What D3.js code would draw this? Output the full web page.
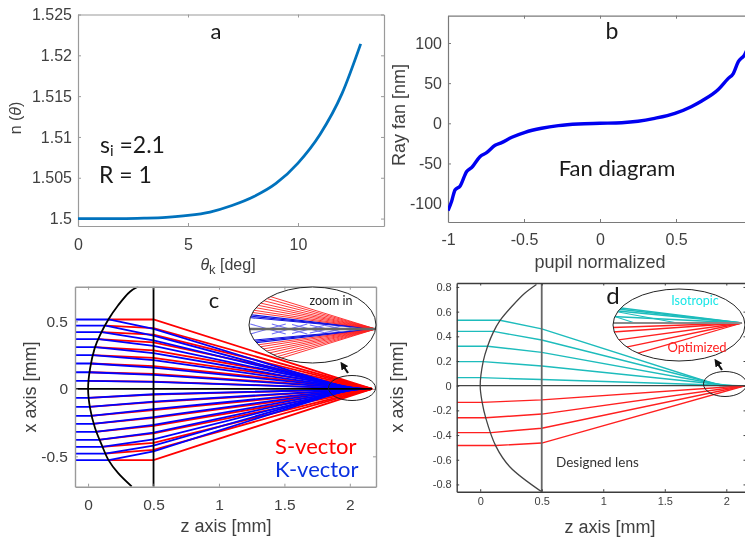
<!DOCTYPE html>
<html lang="en">
<head>
  <meta charset="UTF-8">
  <title>Lens design panels</title>
  <script src="https://d3js.org/d3.v7.min.js"></script>
  <style>
    html, body { margin: 0; padding: 0; background: #fff; overflow: hidden; }
    svg { display: block; filter: blur(0.35px); }
    text { font-family: "Liberation Sans", sans-serif; fill: #404040; }
    .note { font-family: Lato, "Open Sans", sans-serif; fill: #1a1a1a; }
    .tick text { fill: #404040; }
  </style>
</head>
<body>
  <svg width="745" height="537"></svg>
  <script>
    // panel a
    const thetaK = [0, 2, 3, 4, 5, 6, 7, 8, 9, 10, 11, 12, 12.85];
    const indexN = [1.5, 1.5, 1.50005, 1.50015, 1.00038 + 0.5, 1.5008, 1.5016, 1.5027, 1.5043, 1.5068, 1.5103, 1.5153, 1.5214];
    const aTicksX = [0, 5, 10];
    const aTicksY = [1.5, 1.505, 1.51, 1.515, 1.52, 1.525];

    // panel b
    const pupil = [-1, -0.976, -0.954, -0.92, -0.877, -0.844, -0.79, -0.746, -0.69, -0.647, -0.58, -0.493, -0.384, -0.274, -0.143, 0, 0.143, 0.25, 0.36, 0.493, 0.6, 0.669, 0.778, 0.844, 0.877, 0.91, 0.95, 1];
    const rayFan = [-108.7, -97, -83, -78, -60, -55, -41.5, -36.5, -27.4, -24, -17.4, -11.2, -6.2, -2.9, -0.8, 0, 0.7, 2.5, 6.2, 12.4, 20.7, 27.8, 42, 56, 62, 76.8, 85, 108];
    const bTicksX = [-1, -0.5, 0, 0.5];
    const bTicksY = [-100, -50, 0, 50, 100];

    // panel c, lens outline
    const lensZc = [0.384, 0.32, 0.23, 0.155, 0.092, 0.05, 0.015, 0, 0.015, 0.053, 0.104, 0.155, 0.23, 0.333];
    const lensXc = [0.758, 0.72, 0.62, 0.514, 0.4, 0.3, 0.15, 0, -0.143, -0.29, -0.415, -0.526, -0.625, -0.723];

    // panel c, rays: height going in, z where it meets the lens, height at z = 0.5, axis crossing
    const startC = [0.514, 0.469, 0.42, 0.368, 0.309, 0.25, 0.188, 0.123, 0.059, -0.067, -0.133, -0.2, -0.259, -0.319, -0.378, -0.43, -0.48, -0.528];
    const hitC = [0.158, 0.135, 0.105, 0.08, 0.055, 0.035, 0.02, 0.008, 0.002, 0.002, 0.008, 0.02, 0.035, 0.055, 0.08, 0.105, 0.13, 0.158];
    const blueHalf = [0.444, 0.395, 0.36, 0.318, 0.265, 0.213, 0.158, 0.104, 0.052, -0.04, -0.094, -0.15, -0.21, -0.267, -0.325, -0.375, -0.42, -0.464];
    const redHalf = [0.514, 0.45, 0.402, 0.345, 0.285, 0.23, 0.168, 0.11, 0.054, -0.043, -0.098, -0.158, -0.215, -0.275, -0.33, -0.4, -0.452, -0.528];
    const blueFocus = [2, 2.01, 2.03, 2.05, 2.07, 2.08, 2.1, 2.11, 2.12, 2.12, 2.11, 2.1, 2.08, 2.07, 2.05, 2.03, 2.01, 2];
    const redFocus = 2.17;
    const cTicksX = [0, 0.5, 1, 1.5, 2];
    const cTicksY = [-0.5, 0, 0.5];

    // panel c, zoom in: offsets at the left edge of the ellipse
    const insetRedC = [39, 35.5, 32, 28.5, 25.5, 22.5, 19.5, 17, -39, -35.5, -32, -28.5, -25.5, -22.5, -19.5, -17];
    const insetBlueC = [14.5, 13, 11.5, -14.5, -13, -11.5];
    const insetNodesC = [0.15, 0.32, 0.48, 0.62, 0.74];
    const insetNodeOffsetC = [5, 5, 4.5, 4, 3.5];

    // panel d, lens outline
    const lensZd = [0.457, 0.362, 0.268, 0.16, 0.105, 0.06, 0.024, 0, 0.016, 0.046, 0.127, 0.24, 0.5];
    const lensXd = [0.82, 0.749, 0.654, 0.527, 0.43, 0.32, 0.195, 0, -0.135, -0.265, -0.49, -0.657, -0.86];

    // panel d, rays
    const cyanStart = [0.53, 0.44, 0.32, 0.195, 0.065];
    const cyanHit = [0.16, 0.108, 0.06, 0.024, 0.003];
    const cyanHalf = [0.46, 0.37, 0.27, 0.16, 0.05];
    const cyanFocus = [1.95, 1.98, 2, 2.05, 2.1];
    const redStartD = [-0.135, -0.26, -0.38, -0.485];
    const redHitD = [0.016, 0.046, 0.09, 0.127];
    const redHalfD = [-0.115, -0.23, -0.345, -0.465];
    const redFocusD = 2.155;
    const dTicksX = [0, 0.5, 1, 1.5, 2];
    const dTicksY = [-0.8, -0.6, -0.4, -0.2, 0, 0.2, 0.4, 0.6, 0.8];

    // panel d, zoom in
    const insetCyanD = [16, 14.5, 12.5, 6.5];
    const insetRedD = [-37.5, -26.8, -17.6, -9, -4.5];
    const insetNodesD = [0.17, 0.5];
    const insetNodeOffsetD = [7, 12];

    const svg = d3.select("svg");
    const defs = svg.append("defs");

    defs.append("marker").attr("id", "head")
      .attr("viewBox", "0 0 10 10").attr("refX", 2).attr("refY", 5)
      .attr("markerWidth", 3.6).attr("markerHeight", 3.6).attr("orient", "auto")
      .append("path").attr("d", "M0,0L10,5L0,10Z").attr("fill", "#111");

    function clipRect(id, x, y, width, height) {
      defs.append("clipPath").attr("id", id).append("rect")
        .attr("x", x).attr("y", y).attr("width", width).attr("height", height);
    }

    function clipEllipse(id, cx, cy, rx, ry) {
      defs.append("clipPath").attr("id", id).append("ellipse")
        .attr("cx", cx).attr("cy", cy).attr("rx", rx).attr("ry", ry);
    }

    // boxed axes with inward ticks on all four sides
    function axes(x, y, ticksX, ticksY, o) {
      const [x0, x1] = x.range();
      const [y0, y1] = y.range();
      const fmt = d => String(d);
      const groups = [
        [d3.axisBottom(x).tickValues(ticksX).tickFormat(fmt).tickPadding(o.padX), y0],
        [d3.axisTop(x).tickValues(ticksX).tickFormat(""), y1],
      ];
      groups.forEach(([a, pos]) => {
        svg.append("g").attr("transform", `translate(0,${pos})`)
          .call(a.tickSizeInner(-o.tick).tickSizeOuter(0))
          .call(g => style(g, o));
      });
      svg.append("g").attr("transform", `translate(${x0},0)`)
        .call(d3.axisLeft(y).tickValues(ticksY).tickFormat(fmt).tickPadding(o.padY).tickSizeInner(-o.tick).tickSizeOuter(0))
        .call(g => style(g, o));
      svg.append("g").attr("transform", `translate(${x1},0)`)
        .call(d3.axisRight(y).tickValues(ticksY).tickFormat("").tickSizeInner(-o.tick).tickSizeOuter(0))
        .call(g => style(g, o));
    }

    function style(g, o) {
      g.attr("font-family", null).attr("font-size", null);
      g.select(".domain").attr("stroke", o.frame).attr("stroke-width", o.width);
      g.selectAll(".tick line").attr("stroke", o.frame).attr("stroke-width", 1);
      g.selectAll(".tick text").style("font-size", o.size + "px");
    }

    function label(x, y, str, size, rotate) {
      const t = svg.append("text").attr("text-anchor", "middle").style("font-size", size + "px");
      if (rotate) t.attr("transform", `translate(${x},${y}) rotate(-90)`);
      else t.attr("x", x).attr("y", y);
      return t.text(str);
    }

    function note(x, y, str, size, color, anchor) {
      return svg.append("text").attr("class", "note")
        .attr("x", x).attr("y", y)
        .attr("text-anchor", anchor || "start")
        .style("font-size", size + "px")
        .style("fill", color || "#1a1a1a")
        .text(str);
    }

    function ray(parent, x, y, pts, color, width) {
      parent.append("path")
        .attr("d", d3.line().x(d => x(d[0])).y(d => y(d[1]))(pts))
        .attr("fill", "none").attr("stroke", color).attr("stroke-width", width);
    }

    // ---- a
    const xA = d3.scaleLinear().domain([0, 13.91]).range([78, 384]);
    const yA = d3.scaleLinear().domain([1.49909, 1.525]).range([226, 14.5]);
    axes(xA, yA, aTicksX, aTicksY, { frame: "#9a9a9a", width: 1.2, tick: 3, padX: 13, padY: 6, size: 16 });
    svg.append("path")
      .datum(thetaK.map((d, i) => [d, indexN[i]]))
      .attr("d", d3.line().x(d => xA(d[0])).y(d => yA(d[1])).curve(d3.curveMonotoneX))
      .attr("fill", "none").attr("stroke", "#0072bd").attr("stroke-width", 2.8);
    const yLabA = label(21, 118, "", 16, true);
    yLabA.append("tspan").text("n (");
    yLabA.append("tspan").attr("font-style", "italic").text("θ");
    yLabA.append("tspan").text(")");
    const xLabA = label(228, 270, "", 16);
    xLabA.append("tspan").attr("font-style", "italic").text("θ");
    xLabA.append("tspan").attr("dy", 4).style("font-size", "13px").text("k");
    xLabA.append("tspan").attr("dy", -4).text(" [deg]");
    note(216, 39, "a", 22, null, "middle");
    const si = note(100, 153, "s", 23);
    si.append("tspan").attr("dy", 3).style("font-size", "15px").text("i");
    si.append("tspan").attr("dy", -3).text(" =2.1");
    note(99, 183, "R = 1", 23);

    // ---- b
    const xB = d3.scaleLinear().domain([-1, 1]).range([448, 752]);
    const yB = d3.scaleLinear().domain([-122.9, 134]).range([222, 15.7]);
    axes(xB, yB, bTicksX, bTicksY, { frame: "#7a7a7a", width: 1.2, tick: 3, padX: 12, padY: 6, size: 16 });
    clipRect("clip-b", 448, 15, 297, 208);
    svg.append("path")
      .datum(pupil.map((d, i) => [d, rayFan[i]]))
      .attr("clip-path", "url(#clip-b)")
      .attr("d", d3.line().x(d => xB(d[0])).y(d => yB(d[1])).curve(d3.curveMonotoneX))
      .attr("fill", "none").attr("stroke", "#0000f0").attr("stroke-width", 3.4);
    label(600, 268, "pupil normalized", 18);
    label(405, 115, "Ray fan [nm]", 18, true);
    note(612, 39, "b", 23, null, "middle");
    note(617, 176, "Fan diagram", 22, null, "middle");

    // ---- c
    const xC = d3.scaleLinear().domain([-0.1, 2.2]).range([75, 376]);
    const yC = d3.scaleLinear().domain([-0.725, 0.757]).range([486.7, 286.7]);
    clipRect("clip-c", 75, 286.7, 301, 200);
    const plotC = svg.append("g").attr("clip-path", "url(#clip-c)");
    startC.forEach((s, i) => {
      ray(plotC, xC, yC, [[hitC[i], s], [0.5, redHalf[i]], [redFocus, 0]], "#ff0000", 1.8);
    });
    startC.forEach((s, i) => {
      ray(plotC, xC, yC, [[-0.1, s], [hitC[i], s], [0.5, blueHalf[i]], [blueFocus[i], 0]], "#0000ff", 1.8);
    });
    ray(plotC, xC, yC, [[-0.1, 0], [redFocus, 0]], "#000", 1.8);
    ray(plotC, xC, yC, [[0.5, -0.725], [0.5, 0.757]], "#000", 1.8);
    plotC.append("path")
      .attr("d", d3.line().x(d => xC(d[0])).y(d => yC(d[1])).curve(d3.curveCatmullRom)(lensZc.map((d, i) => [d, lensXc[i]])))
      .attr("fill", "none").attr("stroke", "#000").attr("stroke-width", 1.8);
    axes(xC, yC, cTicksX, cTicksY, { frame: "#9a9a9a", width: 1.4, tick: 3, padX: 12, padY: 7, size: 15.5 });
    label(226, 532, "z axis [mm]", 18);
    label(36, 387, "x axis [mm]", 18, true);
    note(214, 308, "c", 22, null, "middle");
    note(275, 454, "S-vector", 22, "#ff0000");
    note(275, 477, "K-vector", 22, "#0a30e0");

    // zoom in, c
    svg.append("ellipse").attr("cx", 352).attr("cy", 388).attr("rx", 23.5).attr("ry", 12.5)
      .attr("fill", "none").attr("stroke", "#222").attr("stroke-width", 1);
    svg.append("line").attr("x1", 348).attr("y1", 373).attr("x2", 344).attr("y2", 367)
      .attr("stroke", "#111").attr("stroke-width", 2.2).attr("marker-end", "url(#head)");
    clipEllipse("clip-ic", 312.5, 325, 63.5, 38);
    const uC = d3.scaleLinear().domain([0, 1]).range([249, 375.7]);
    const vC = d3.scaleLinear().domain([-40, 40]).range([369, 289]);
    svg.append("ellipse").attr("cx", 312.5).attr("cy", 325).attr("rx", 63.5).attr("ry", 38)
      .attr("fill", "#fff").attr("stroke", "none");
    const insetC = svg.append("g").attr("clip-path", "url(#clip-ic)");
    insetNodesC.forEach((n, i) => {
      const o = insetNodeOffsetC[i];
      ray(insetC, uC, vC, [[n - 0.14, o], [n, 0], [n + 0.14, -o]], "#7070f5", 1.1);
      ray(insetC, uC, vC, [[n - 0.14, -o], [n, 0], [n + 0.14, o]], "#7070f5", 1.1);
    });
    insetBlueC.forEach(o => ray(insetC, uC, vC, [[0, o], [1, 0]], "#1010e0", 1.2));
    insetRedC.forEach(o => ray(insetC, uC, vC, [[0, o], [1, 0]], "#ff2020", 0.9));
    ray(insetC, uC, vC, [[0, 0], [1, 0]], "#666", 2.4);
    svg.append("ellipse").attr("cx", 312.5).attr("cy", 325).attr("rx", 63.5).attr("ry", 38)
      .attr("fill", "none").attr("stroke", "#222").attr("stroke-width", 1);
    note(331, 305, "zoom in", 12.5, "#222", "middle");

    // ---- d
    const xD = d3.scaleLinear().domain([-0.191, 2.16]).range([456.7, 746]);
    const yD = d3.scaleLinear().domain([-0.859, 0.832]).range([491.7, 283]);
    clipRect("clip-d", 456.7, 283, 290, 208.7);
    const plotD = svg.append("g").attr("clip-path", "url(#clip-d)");
    cyanStart.forEach((s, i) => {
      ray(plotD, xD, yD, [[-0.191, s], [cyanHit[i], s], [0.5, cyanHalf[i]], [cyanFocus[i], 0], [redFocusD, 0]], "#1dbcbc", 1.4);
    });
    redStartD.forEach((s, i) => {
      ray(plotD, xD, yD, [[-0.191, s], [redHitD[i], s], [0.5, redHalfD[i]], [redFocusD, 0]], "#ff2020", 1.4);
    });
    ray(plotD, xD, yD, [[-0.191, 0], [2.16, 0]], "#444", 1.3);
    ray(plotD, xD, yD, [[0.5, -0.859], [0.5, 0.832]], "#666", 1.8);
    plotD.append("path")
      .attr("d", d3.line().x(d => xD(d[0])).y(d => yD(d[1])).curve(d3.curveCatmullRom)(lensZd.map((d, i) => [d, lensXd[i]])))
      .attr("fill", "none").attr("stroke", "#444").attr("stroke-width", 1.3);
    axes(xD, yD, dTicksX, dTicksY, { frame: "#3c3c3c", width: 1.4, tick: 2.5, padX: 6, padY: 5, size: 11 });
    label(610, 533, "z axis [mm]", 18);
    label(403, 387, "x axis [mm]", 18, true);
    note(613, 304, "d", 24, null, "middle");
    note(556, 467, "Designed lens", 13.5, "#333");

    // zoom in, d
    svg.append("ellipse").attr("cx", 725).attr("cy", 384).attr("rx", 21.5).attr("ry", 12.5)
      .attr("fill", "none").attr("stroke", "#222").attr("stroke-width", 1);
    svg.append("line").attr("x1", 722).attr("y1", 370).attr("x2", 718).attr("y2", 364)
      .attr("stroke", "#111").attr("stroke-width", 2.2).attr("marker-end", "url(#head)");
    svg.append("ellipse").attr("cx", 679).attr("cy", 325).attr("rx", 66).attr("ry", 36)
      .attr("fill", "#fff").attr("stroke", "none");
    clipEllipse("clip-id", 679, 325, 66, 36);
    const uD = d3.scaleLinear().domain([0, 1]).range([613, 742]);
    const vD = d3.scaleLinear().domain([-40, 40]).range([363, 283]);
    const insetD = svg.append("g").attr("clip-path", "url(#clip-id)");
    insetCyanD.forEach(o => ray(insetD, uD, vD, [[0, o], [1, 0]], "#1dbcbc", 1.3));
    insetNodesD.forEach((n, i) => {
      ray(insetD, uD, vD, [[0, insetNodeOffsetD[i]], [n, 0]], "#1dbcbc", 1.1);
    });
    insetRedD.forEach(o => ray(insetD, uD, vD, [[0, o], [1, 0]], "#ff2020", 1.3));
    ray(insetD, uD, vD, [[0, 0], [1, 0]], "#8a8a8a", 1.8);
    svg.append("ellipse").attr("cx", 679).attr("cy", 325).attr("rx", 66).attr("ry", 36)
      .attr("fill", "none").attr("stroke", "#222").attr("stroke-width", 1);
    note(695, 305, "Isotropic", 12.5, "#19e6e6", "middle");
    note(697, 352, "Optimized", 13, "#ff2020", "middle");
  </script>
</body>
</html>
